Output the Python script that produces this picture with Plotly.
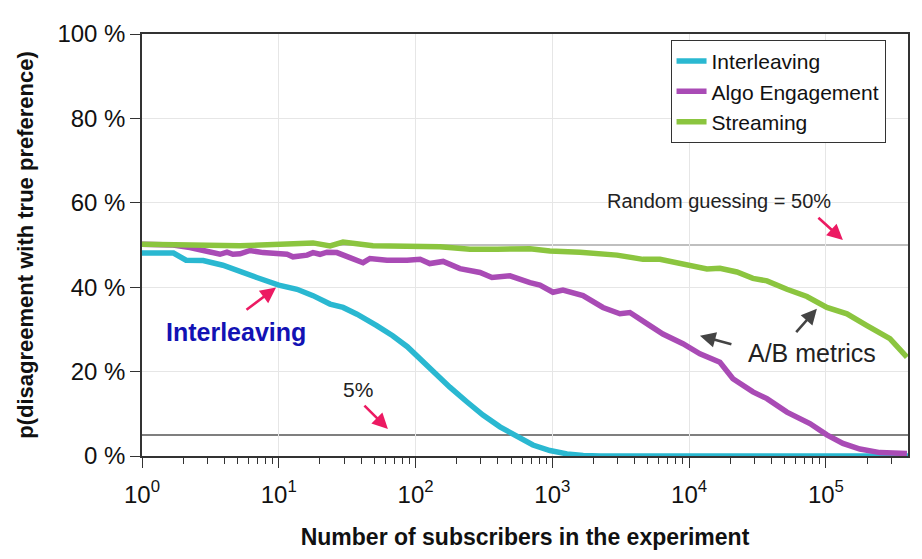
import plotly.graph_objects as go

# данные: число подписчиков и доля несогласия (%)
interleaving_x = [1, 1.7, 2.1, 2.8, 3.9, 5.2, 6.9, 10, 13.6, 17.8, 23.7, 29.5, 37.3, 52, 68, 87,
                  100, 134, 178, 238, 311, 414, 551, 721, 960, 1280, 1680, 2230, 10000, 100000, 398000]
interleaving_y = [48.1, 48.1, 46.4, 46.3, 45.2, 43.9, 42.3, 40.5, 39.5, 38.0, 36.0, 35.2, 33.6, 30.9, 28.5, 25.9,
                  24.0, 19.9, 16.3, 12.8, 9.7, 6.9, 4.6, 2.6, 1.3, 0.5, 0.1, 0, 0, 0, 0]

algo_x = [1, 1.69, 2.24, 2.99, 3.72, 4.18, 4.62, 5.21, 6.16, 7.67, 9.71, 11.5, 12.7, 16.1, 17.8, 20.0,
          22.5, 26.6, 33.1, 41.3, 46.4, 61.8, 86.6, 108, 127, 159, 211, 296, 362, 490, 686, 811,
          1010, 1195, 1675, 2343, 3121, 3690, 5166, 6429, 9010, 11990, 16790, 20890, 29270, 37040,
          51870, 76380, 101600, 133100, 177300, 248500, 391000]
algo_y = [50.2, 50.0, 49.4, 48.6, 47.8, 48.3, 47.8, 47.9, 48.7, 48.2, 47.8, 47.8, 47.2, 47.6, 48.2, 47.8,
          48.3, 48.2, 47.0, 45.8, 46.8, 46.4, 46.4, 46.6, 45.6, 46.1, 44.4, 43.5, 42.3, 42.7, 41.1, 40.5,
          38.8, 39.3, 38.0, 35.2, 33.7, 34.0, 30.9, 28.9, 26.6, 24.2, 22.2, 18.3, 15.2, 13.6,
          10.4, 7.7, 5.0, 3.0, 1.65, 0.8, 0.6]

streaming_x = [1, 5.2, 17.8, 23.7, 29.5, 48.8, 151, 250, 394, 686, 960, 1592, 2966, 4594, 6118,
               9630, 13490, 16790, 22350, 29270, 37040, 51870, 72600, 101600, 142500, 199500, 293700, 391000]
streaming_y = [50.2, 49.8, 50.5, 49.8, 50.7, 49.8, 49.6, 49.0, 49.0, 49.1, 48.6, 48.3, 47.6, 46.6, 46.6,
               45.2, 44.3, 44.5, 43.6, 42.1, 41.5, 39.5, 37.8, 35.2, 33.7, 30.9, 27.8, 23.4]

ref_levels = [50, 5]
y_ticks = [0, 20, 40, 60, 80, 100]
y_labels = ["0 %", "20 %", "40 %", "60 %", "80 %", "100 %"]
x_ticks = [1, 10, 100, 1000, 10000, 100000]
x_labels = ["10<sup>0</sup>", "10<sup>1</sup>", "10<sup>2</sup>",
            "10<sup>3</sup>", "10<sup>4</sup>", "10<sup>5</sup>"]

FONT = "Liberation Sans, Arial, sans-serif"
PINK = "#ec1a62"
DARK = "#444444"

fig = go.Figure()

fig.add_trace(go.Scatter(x=interleaving_x, y=interleaving_y, mode="lines", name="Interleaving",
                         line=dict(color="#2ab8d1", width=5.5)))
fig.add_trace(go.Scatter(x=algo_x, y=algo_y, mode="lines", name="Algo Engagement",
                         line=dict(color="#a94bb5", width=5.5)))
fig.add_trace(go.Scatter(x=streaming_x, y=streaming_y, mode="lines", name="Streaming",
                         line=dict(color="#8bc53f", width=5.5)))

# линии 50% и 5%
fig.add_hline(y=ref_levels[0], line=dict(color="#aaaaaa", width=1.5), layer="below")
fig.add_hline(y=ref_levels[1], line=dict(color="#555555", width=1.5), layer="below")

# подписи и стрелки
fig.add_annotation(x=0.687, y=29.5, text="<b>Interleaving</b>", showarrow=False,
                   font=dict(family=FONT, size=25, color="#1212b4"))
fig.add_annotation(x=1.579, y=15.8, text="5%", showarrow=False,
                   font=dict(family=FONT, size=21, color="#222222"))
fig.add_annotation(x=4.218, y=60.4, text="Random guessing = 50%", showarrow=False,
                   font=dict(family=FONT, size=20, color="#222222"))
fig.add_annotation(x=4.898, y=24.5, text="A/B metrics", showarrow=False,
                   font=dict(family=FONT, size=25, color="#222222"))

arrows = [
    (0.98, 39.9, 0.753, 34.4, PINK),
    (1.798, 6.4, 1.615, 12.3, PINK),
    (5.124, 51.2, 4.934, 56.8, PINK),
    (4.079, 28.5, 4.32, 26.4, DARK),
    (4.934, 34.9, 4.773, 29.0, DARK),
]
for hx, hy, tx, ty, col in arrows:
    fig.add_annotation(x=hx, y=hy, ax=tx, ay=ty, xref="x", yref="y", axref="x", ayref="y",
                       text="", showarrow=True, arrowhead=2, arrowsize=1.2, arrowwidth=2.6,
                       arrowcolor=col)

# страница сдвигается на 8px (отступ body), поэтому размеры чуть меньше окна
fig.update_layout(
    width=914, height=551,
    margin=dict(l=134, r=14, t=24, b=103),
    plot_bgcolor="white", paper_bgcolor="white",
    font=dict(family=FONT, color="#111111"),
    legend=dict(x=0.69, y=0.986, xanchor="left", yanchor="top",
                bgcolor="white", bordercolor="#333333", borderwidth=1,
                font=dict(family=FONT, size=21), tracegroupgap=0),
    xaxis=dict(type="log", range=[0, 5.6],
               tickvals=x_ticks, ticktext=x_labels,
               tickfont=dict(size=24), ticks="outside", ticklen=10, tickcolor="#333333",
               ticklabelstandoff=6,
               minor=dict(ticks="outside", ticklen=6, dtick="D1", tickcolor="#333333", showgrid=False),
               showgrid=True, gridcolor="#e6e6e6",
               showline=True, linecolor="#333333", linewidth=1.5, mirror=True,
               title=dict(text="<b>Number of subscribers in the experiment</b>",
                          font=dict(size=23), standoff=22)),
    yaxis=dict(range=[0, 100], tickvals=y_ticks, ticktext=y_labels,
               tickfont=dict(size=24), ticks="outside", ticklen=10, tickcolor="#333333",
               showgrid=True, gridcolor="#e6e6e6", zeroline=False,
               showline=True, linecolor="#333333", linewidth=1.5, mirror=True,
               title=dict(text="<b>p(disagreement with true preference)</b>",
                          font=dict(size=22), standoff=18)),
)

fig.write_html("out.html")
